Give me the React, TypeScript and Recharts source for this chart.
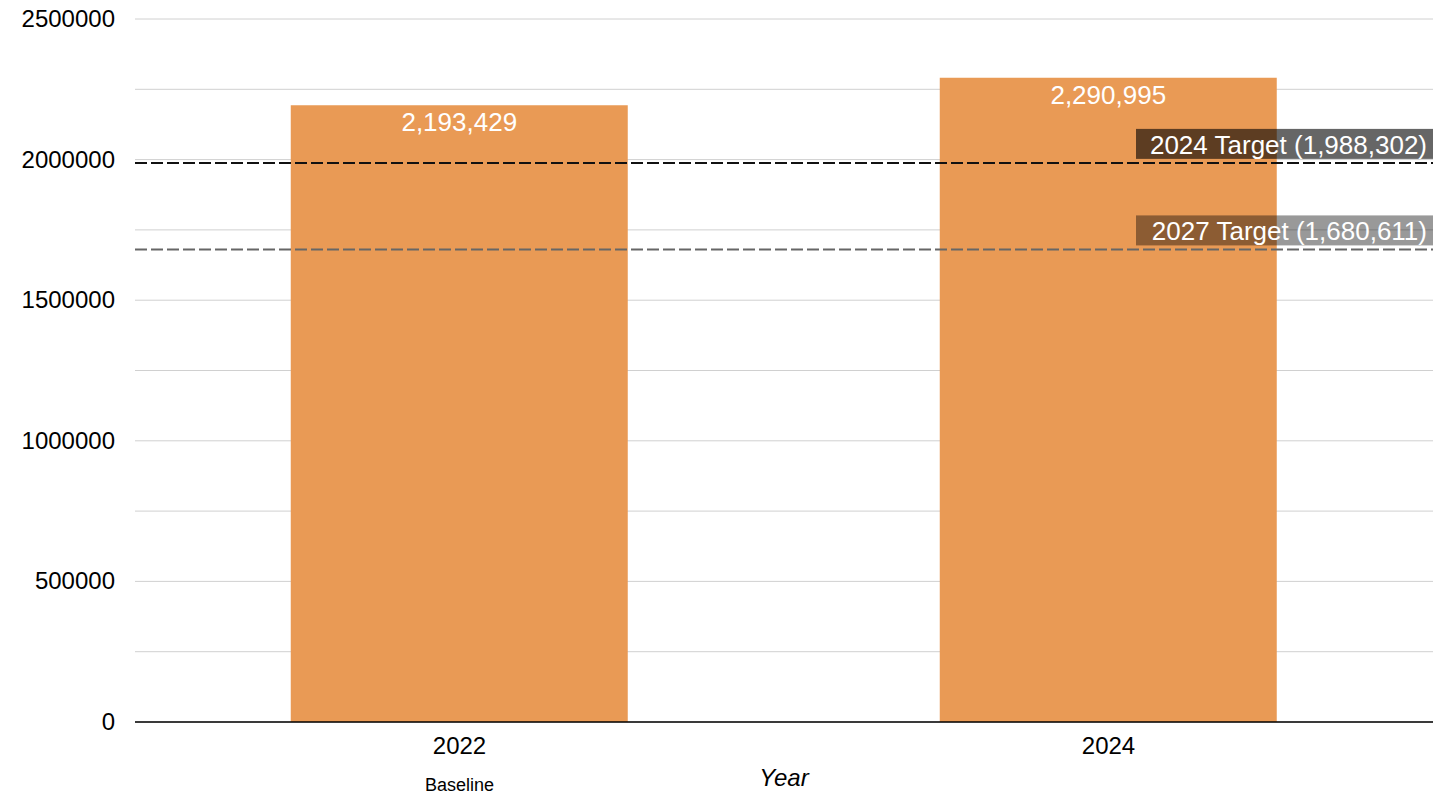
import React from 'react';
import { BarChart, Bar, XAxis, YAxis, CartesianGrid, ReferenceLine, LabelList, Label } from 'recharts';

const years = ['2022', '2024'];
const values = [2193429, 2290995];
const subLabels = ['Baseline', ''];
const yTicks = [0, 250000, 500000, 750000, 1000000, 1250000, 1500000, 1750000, 2000000, 2250000, 2500000];
const target2024 = 1988302;
const target2027 = 1680611;

const data = years.map((y, i) => ({ year: y, value: values[i], sub: subLabels[i] }));

const FONT = '"Liberation Sans", Arial, sans-serif';
const fmt = (v: number) => v.toLocaleString('en-US');

const YTick = (props: any) => {
  const { x, y, payload } = props;
  if (payload.value % 500000 !== 0) return null;
  return (
    <text x={x - 12} y={y} dy={8} textAnchor="end" fontSize={24} fill="#000" fontFamily={FONT}>
      {payload.value}
    </text>
  );
};

const XTick = (props: any) => {
  const { x, y, payload, index } = props;
  const sub = subLabels[index] || '';
  return (
    <g>
      <text x={x} y={y + 24} textAnchor="middle" fontSize={24} fill="#000" fontFamily={FONT}>
        {payload.value}
      </text>
      {sub ? (
        <text x={x} y={y + 61} textAnchor="middle" fontSize={18} fill="#000" fontFamily={FONT}>
          {sub}
        </text>
      ) : null}
    </g>
  );
};

const makeRefLabel = (text: string, bg: string) => (props: any) => {
  const vb = props.viewBox || {};
  const right = vb.x + vb.width;
  const w = 297;
  const h = 30;
  return (
    <g>
      <rect x={right - w} y={vb.y - h - 4} width={w} height={h} fill={bg} />
      <text x={right - 6} y={vb.y - 9} textAnchor="end" fontSize={26} fill="#fff" fontFamily={FONT}>
        {text}
      </text>
    </g>
  );
};

const BarValueLabel = (props: any) => {
  const { x, y, width, value } = props;
  return (
    <text x={x + width / 2} y={y + 26} textAnchor="middle" fontSize={26} fill="#fff" fontFamily={FONT}>
      {fmt(value)}
    </text>
  );
};

const YearLabel = (props: any) => {
  const vb = props.viewBox || {};
  return (
    <text x={vb.x + vb.width / 2} y={vb.y + 64} textAnchor="middle" fontSize={24} fontStyle="italic" fill="#000" fontFamily={FONT}>
      Year
    </text>
  );
};

export default function App() {
  return (
    <div style={{ position: 'absolute', left: 0, top: 0, width: 1443, height: 797, background: '#fff' }}>
      <BarChart
        width={1443}
        height={797}
        data={data}
        margin={{ top: 19, right: 10, bottom: 0, left: 0 }}
        barCategoryGap="24%"
      >
        <CartesianGrid vertical={false} stroke="#d0d0d0" strokeWidth={1} />
        <XAxis
          dataKey="year"
          tickLine={false}
          axisLine={{ stroke: '#000', strokeWidth: 1.5 }}
          tick={<XTick />}
          height={75}
          interval={0}
        >
          <Label content={<YearLabel />} />
        </XAxis>
        <YAxis
          width={135}
          domain={[0, 2500000]}
          ticks={yTicks}
          tickLine={false}
          axisLine={false}
          tick={<YTick />}
          interval={0}
        />
        <Bar dataKey="value" fill="#E99A55" isAnimationActive={false}>
          <LabelList dataKey="value" content={<BarValueLabel />} />
        </Bar>
        <ReferenceLine
          y={target2024}
          stroke="#111"
          strokeWidth={2}
          strokeDasharray="12 4"
          label={makeRefLabel('2024 Target (1,988,302)', 'rgba(0,0,0,0.6)')}
        />
        <ReferenceLine
          y={target2027}
          stroke="#666"
          strokeWidth={2}
          strokeDasharray="12 4"
          label={makeRefLabel('2027 Target (1,680,611)', 'rgba(0,0,0,0.4)')}
        />
      </BarChart>
    </div>
  );
}
